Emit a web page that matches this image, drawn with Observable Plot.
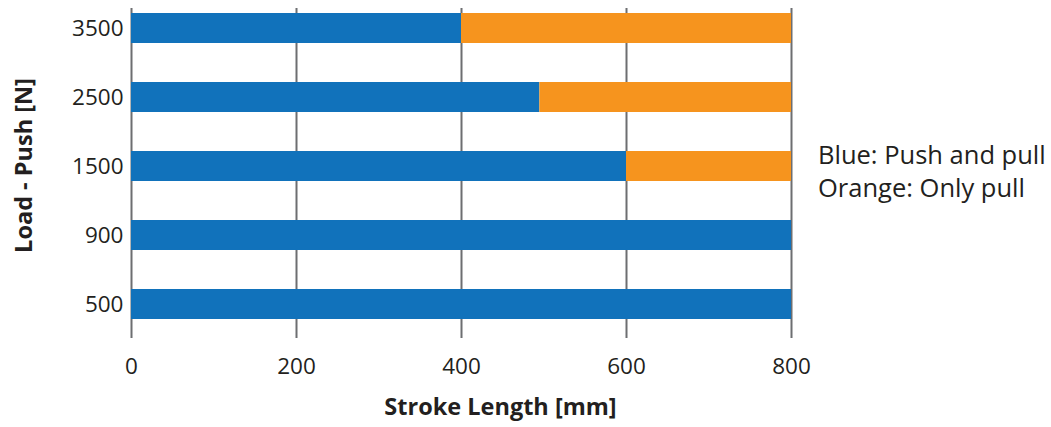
<!DOCTYPE html>
<html><head><meta charset="utf-8">
<script src="https://cdn.jsdelivr.net/npm/d3@7"></script>
<script src="https://cdn.jsdelivr.net/npm/@observablehq/plot@0.6"></script>
<style>
body{margin:0;background:#fff;font-family:"Open Sans",sans-serif;}
#wrap{position:relative;width:1051px;height:427px;}
#legend{position:absolute;left:818px;top:138px;font-size:25.5px;line-height:33px;color:#231f20;white-space:nowrap;}
svg [aria-label="x-axis label"], svg [aria-label="y-axis label"]{font-weight:bold;font-size:23.5px;}
</style></head><body>
<div id="wrap"><div id="legend">Blue: Push and pull<br>Orange: Only pull</div></div>
<script>
const loads = ["3500","2500","1500","900","500"];
const pushAndPull = [400,495,600,800,800];
const onlyPull = [400,305,200,0,0];
const xTicks = [0,200,400,600,800];
const seriesNames = ["Push and pull","Only pull"];
const seriesColors = ["#1172bb","#f6941e"];
const rows = loads.flatMap((l,i)=>[
  {load:l, series:seriesNames[0], value:pushAndPull[i]},
  {load:l, series:seriesNames[1], value:onlyPull[i]}
]);
const chart = Plot.plot({
  width:1051, height:427, marginLeft:131, marginRight:260, marginTop:8, marginBottom:89,
  style:{fontFamily:'"Open Sans",sans-serif', fontSize:"22.5px", color:"#231f20", background:"transparent"},
  x:{domain:[0,800], ticks:xTicks, tickSize:0, tickPadding:20, label:"Stroke Length [mm]", labelArrow:"none", labelAnchor:"center", labelOffset:76},
  y:{domain:loads, range:[12,319], paddingInner:0.567, paddingOuter:0, tickSize:0, tickPadding:8, label:"Load - Push [N]", labelAnchor:"center", labelOffset:116},
  color:{domain:seriesNames, range:seriesColors},
  marks:[
    Plot.ruleX(xTicks,{stroke:"#6d6e71", strokeOpacity:1, strokeWidth:2}),
    Plot.barX(rows, Plot.stackX({x:"value", y:"load", fill:"series"}))
  ]
});
// strip any arrow left on the x label; nudge labels to match the original placement
d3.select(chart).selectAll('[aria-label="x-axis label"] text')
  .text(function(){return this.textContent.replace(/\s*[→←]\s*/g,"");})
  .attr("dx", 39);
d3.select(chart).selectAll('[aria-label="y-axis label"] text').attr("dx", 8);
document.getElementById("wrap").prepend(chart);
</script>
</body></html>
